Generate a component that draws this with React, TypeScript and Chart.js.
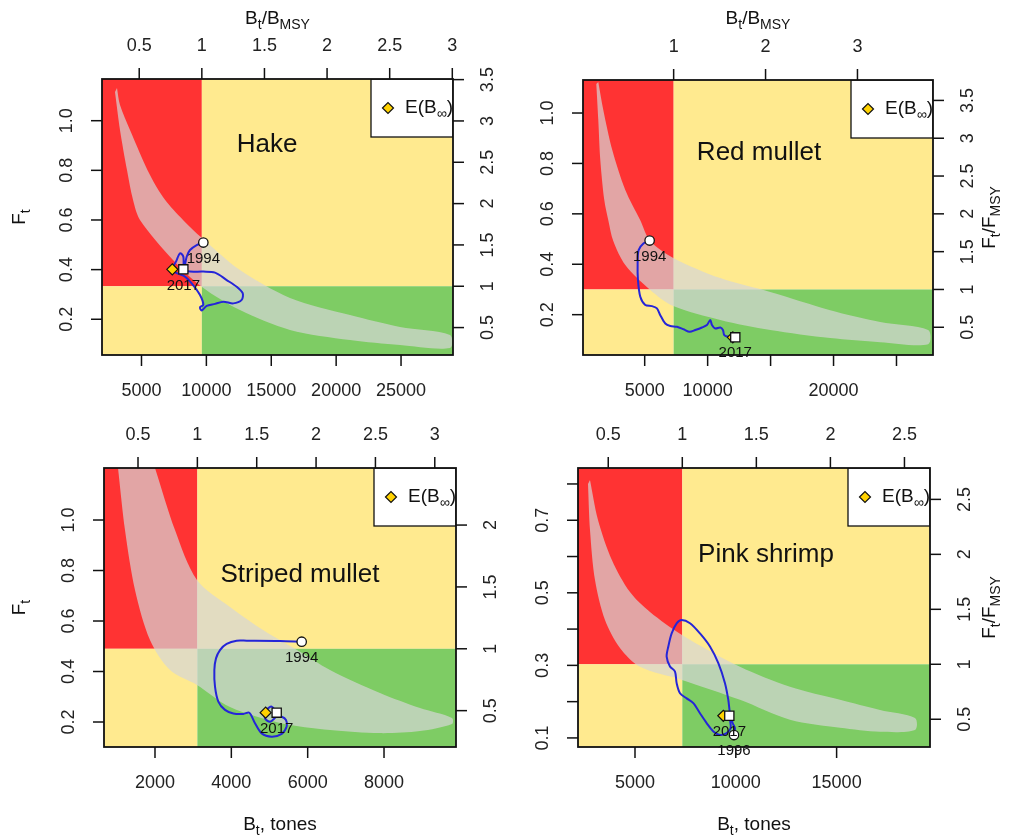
import React, { useEffect, useRef } from "react";
import { Chart, registerables } from "chart.js";
Chart.register(...registerables);

type Pt = [number, number];

// ---------------- Hake ----------------
const hakeTrajectory: Pt[] = [
  [9766, 0.509], [9253, 0.499], [8739, 0.479], [8482, 0.452], [8353, 0.419], [8276, 0.399],
  [8739, 0.392], [9766, 0.392], [10666, 0.388], [11565, 0.358], [12336, 0.331], [12798, 0.305],
  [12721, 0.278], [12078, 0.264], [11308, 0.271], [10666, 0.262], [10024, 0.254], [9638, 0.235],
  [9509, 0.248], [9766, 0.258], [9509, 0.298], [8867, 0.345], [8353, 0.372], [7763, 0.385],
  [7326, 0.399], [7660, 0.432], [7968, 0.466], [8225, 0.452], [8225, 0.401],
];
const hakeBandUpper: Pt[] = [
  [3113, 1.132], [3344, 1.063], [4115, 0.963], [5656, 0.781], [6812, 0.681], [8199, 0.6],
  [9663, 0.527], [12591, 0.398], [16444, 0.286], [21068, 0.217], [24921, 0.169], [28774, 0.137],
];
const hakeBandLower: Pt[] = [
  [2959, 1.116], [3344, 0.963], [3883, 0.801], [4346, 0.681], [4885, 0.6], [7428, 0.439],
  [9663, 0.33], [12591, 0.237], [16444, 0.157], [21068, 0.116], [24921, 0.096], [28774, 0.084],
];
const hakeEquilibrium: Pt = [7374, 0.401];
const hakeYears = ["1994", "2017"];
const hakeBottomTicks = [5000, 10000, 15000, 20000, 25000];
const hakeBottomLabels = ["5000", "10000", "15000", "20000", "25000"];
const hakeTopTicks = [0.5, 1, 1.5, 2, 2.5, 3];
const hakeTopLabels = ["0.5", "1", "1.5", "2", "2.5", "3"];
const hakeLeftTicks = [0.2, 0.4, 0.6, 0.8, 1.0];
const hakeLeftLabels = ["0.2", "0.4", "0.6", "0.8", "1.0"];
const hakeRightTicks = [0.5, 1, 1.5, 2, 2.5, 3, 3.5];
const hakeRightLabels = ["0.5", "1", "1.5", "2", "2.5", "3", "3.5"];

// ---------------- Red mullet ----------------
const mulletTrajectory: Pt[] = [
  [5392, 0.494], [4915, 0.483], [4518, 0.456], [4439, 0.404], [4465, 0.337], [4651, 0.271],
  [5048, 0.238], [5577, 0.234], [5974, 0.225], [6239, 0.198], [6636, 0.165], [7033, 0.155],
  [7562, 0.152], [8092, 0.142], [8568, 0.132], [9018, 0.139], [9548, 0.149], [9945, 0.159],
  [10209, 0.179], [10342, 0.159], [10606, 0.145], [11004, 0.149], [11215, 0.139], [11321, 0.119],
  [11665, 0.112], [12195, 0.11],
];
const mulletBandUpper: Pt[] = [
  [1315, 1.123], [1712, 1.012], [2426, 0.853], [3459, 0.695], [4650, 0.575], [5444, 0.492],
  [7270, 0.425], [11002, 0.345], [14972, 0.29], [19736, 0.218], [23706, 0.171], [27517, 0.139],
];
const mulletBandLower: Pt[] = [
  [1156, 1.115], [1315, 0.972], [1474, 0.814], [1791, 0.655], [2109, 0.575], [2506, 0.492],
  [3459, 0.397], [5444, 0.298], [7270, 0.234], [11002, 0.179], [14972, 0.139], [19736, 0.107],
  [23706, 0.091], [27517, 0.083],
];
const mulletEquilibrium: Pt = [12000, 0.11];
const mulletYears = ["1994", "2017"];
const mulletBottomTicks = [5000, 10000, 15000, 20000, 25000];
const mulletBottomLabels = ["5000", "10000", "", "20000", ""];
const mulletTopTicks = [1, 2, 3];
const mulletTopLabels = ["1", "2", "3"];
const mulletLeftTicks = [0.2, 0.4, 0.6, 0.8, 1.0];
const mulletLeftLabels = ["0.2", "0.4", "0.6", "0.8", "1.0"];
const mulletRightTicks = [0.5, 1, 1.5, 2, 2.5, 3, 3.5];
const mulletRightLabels = ["0.5", "1", "1.5", "2", "2.5", "3", "3.5"];

// ---------------- Striped mullet ----------------
const stripedTrajectory: Pt[] = [
  [5843, 0.518], [5275, 0.521], [4402, 0.522], [4140, 0.522], [3878, 0.509], [3703, 0.485],
  [3598, 0.452], [3555, 0.406], [3572, 0.34], [3659, 0.281], [3834, 0.248], [4052, 0.234],
  [4314, 0.232], [4471, 0.237], [4620, 0.195], [4795, 0.155], [5057, 0.142], [5319, 0.153],
  [5450, 0.182], [5432, 0.208], [5319, 0.221], [5188, 0.221], [5013, 0.201], [4882, 0.215],
  [4926, 0.248], [5057, 0.261], [5188, 0.237],
];
const stripedBandUpper: Pt[] = [
  [2000, 1.206], [2524, 0.96], [3100, 0.762], [3965, 0.655], [4830, 0.564], [5720, 0.485],
  [6585, 0.406], [7895, 0.315], [8943, 0.255], [9781, 0.216],
];
const stripedBandLower: Pt[] = [
  [1031, 1.206], [1214, 0.96], [1476, 0.723], [1869, 0.525], [2393, 0.406], [3100, 0.347],
  [3965, 0.259], [5275, 0.196], [6585, 0.168], [7895, 0.156], [8943, 0.164], [9781, 0.192],
];
const stripedEquilibrium: Pt = [4899, 0.237];
const stripedYears = ["1994", "2017"];
const stripedBottomTicks = [2000, 4000, 6000, 8000];
const stripedBottomLabels = ["2000", "4000", "6000", "8000"];
const stripedTopTicks = [0.5, 1, 1.5, 2, 2.5, 3];
const stripedTopLabels = ["0.5", "1", "1.5", "2", "2.5", "3"];
const stripedLeftTicks = [0.2, 0.4, 0.6, 0.8, 1.0];
const stripedLeftLabels = ["0.2", "0.4", "0.6", "0.8", "1.0"];
const stripedRightTicks = [0.5, 1, 1.5, 2];
const stripedRightLabels = ["0.5", "1", "1.5", "2"];

// ---------------- Pink shrimp ----------------
const shrimpTrajectory: Pt[] = [
  [9910, 0.108], [9959, 0.127], [9843, 0.141], [9711, 0.168], [9628, 0.205], [9463, 0.251],
  [9133, 0.306], [8719, 0.352], [8223, 0.388], [7728, 0.416], [7314, 0.425], [7066, 0.416],
  [6818, 0.388], [6653, 0.352], [6570, 0.324], [6736, 0.297], [6984, 0.283], [7066, 0.251],
  [7232, 0.223], [7562, 0.209], [7893, 0.196], [8223, 0.168], [8554, 0.141], [8885, 0.118],
  [9215, 0.108], [9546, 0.113], [9744, 0.127], [9711, 0.15], [9678, 0.161],
];
const shrimpBandUpper: Pt[] = [
  [2768, 0.811], [3165, 0.701], [3859, 0.59], [4752, 0.502], [5744, 0.447], [7331, 0.384],
  [10208, 0.296], [12688, 0.241], [15168, 0.205], [17152, 0.177], [18888, 0.155],
];
const shrimpBandLower: Pt[] = [
  [2669, 0.8], [2768, 0.673], [3016, 0.535], [3512, 0.425], [4256, 0.348], [5248, 0.296],
  [7331, 0.26], [10208, 0.205], [12688, 0.15], [15168, 0.128], [17152, 0.117], [18888, 0.122],
];
const shrimpEquilibrium: Pt = [9381, 0.161];
const shrimpYears = ["1996", "2017"];
const shrimpBottomTicks = [5000, 10000, 15000];
const shrimpBottomLabels = ["5000", "10000", "15000"];
const shrimpTopTicks = [0.5, 1, 1.5, 2, 2.5];
const shrimpTopLabels = ["0.5", "1", "1.5", "2", "2.5"];
const shrimpLeftTicks = [0.1, 0.2, 0.3, 0.4, 0.5, 0.6, 0.7, 0.8];
const shrimpLeftLabels = ["0.1", "", "0.3", "", "0.5", "", "0.7", ""];
const shrimpRightTicks = [0.5, 1, 1.5, 2, 2.5];
const shrimpRightLabels = ["0.5", "1", "1.5", "2", "2.5"];

// ---------------- styling / layout ----------------
const FONT = '"Liberation Sans", Arial, Helvetica, sans-serif';
const fnt = (s: number) => `${s}px ${FONT}`;
const RED = "#FF3333";
const YELLOW = "#FFEA8F";
const GREEN = "#7ECC64";
const BAND = "rgba(214,214,214,0.7)";
const TRAJ = "#2525D8";
const DIAMOND = "#FFD200";

interface Panel {
  name: string;
  traj: Pt[]; upper: Pt[]; lower: Pt[]; einf: Pt; years: string[];
  bmsy: number; fmsy: number;
  xMin: number; xMax: number; yMin: number; yMax: number;
  bottomTicks: number[]; bottomLabels: string[];
  topTicks: number[]; topLabels: string[];
  leftTicks: number[]; leftLabels: string[];
  rightTicks: number[]; rightLabels: string[];
  frame: { left: number; top: number; w: number; h: number };
  area: { left: number; top: number; right: number; bottom: number };
  titleAt: [number, number];
  topTitle: boolean; bottomTitle: boolean; leftTitle: boolean; rightTitle: boolean;
}

const panels: Panel[] = [
  {
    name: "Hake", traj: hakeTrajectory, upper: hakeBandUpper, lower: hakeBandLower,
    einf: hakeEquilibrium, years: hakeYears, bmsy: 9650, fmsy: 0.333,
    xMin: 1957, xMax: 29004, yMin: 0.056, yMax: 1.168,
    bottomTicks: hakeBottomTicks, bottomLabels: hakeBottomLabels,
    topTicks: hakeTopTicks, topLabels: hakeTopLabels,
    leftTicks: hakeLeftTicks, leftLabels: hakeLeftLabels,
    rightTicks: hakeRightTicks, rightLabels: hakeRightLabels,
    frame: { left: 0, top: 0, w: 515, h: 415 },
    area: { left: 102, top: 79, right: 453, bottom: 355 },
    titleAt: [165, 66], topTitle: true, bottomTitle: false, leftTitle: true, rightTitle: false,
  },
  {
    name: "Red mullet", traj: mulletTrajectory, upper: mulletBandUpper, lower: mulletBandLower,
    einf: mulletEquilibrium, years: mulletYears, bmsy: 7300, fmsy: 0.3,
    xMin: 100, xMax: 27900, yMin: 0.04, yMax: 1.131,
    bottomTicks: mulletBottomTicks, bottomLabels: mulletBottomLabels,
    topTicks: mulletTopTicks, topLabels: mulletTopLabels,
    leftTicks: mulletLeftTicks, leftLabels: mulletLeftLabels,
    rightTicks: mulletRightTicks, rightLabels: mulletRightLabels,
    frame: { left: 515, top: 0, w: 495, h: 415 },
    area: { left: 583, top: 80, right: 933, bottom: 355 },
    titleAt: [176, 73], topTitle: true, bottomTitle: false, leftTitle: false, rightTitle: true,
  },
  {
    name: "Striped mullet", traj: stripedTrajectory, upper: stripedBandUpper, lower: stripedBandLower,
    einf: stripedEquilibrium, years: stripedYears, bmsy: 3110, fmsy: 0.49,
    xMin: 664, xMax: 9886, yMin: 0.101, yMax: 1.206,
    bottomTicks: stripedBottomTicks, bottomLabels: stripedBottomLabels,
    topTicks: stripedTopTicks, topLabels: stripedTopLabels,
    leftTicks: stripedLeftTicks, leftLabels: stripedLeftLabels,
    rightTicks: stripedRightTicks, rightLabels: stripedRightLabels,
    frame: { left: 0, top: 415, w: 515, h: 424 },
    area: { left: 104, top: 468, right: 456, bottom: 747 },
    titleAt: [196, 107], topTitle: false, bottomTitle: true, leftTitle: true, rightTitle: false,
  },
  {
    name: "Pink shrimp", traj: shrimpTrajectory, upper: shrimpBandUpper, lower: shrimpBandLower,
    einf: shrimpEquilibrium, years: shrimpYears, bmsy: 7346, fmsy: 0.303,
    xMin: 2173, xMax: 19632, yMin: 0.075, yMax: 0.844,
    bottomTicks: shrimpBottomTicks, bottomLabels: shrimpBottomLabels,
    topTicks: shrimpTopTicks, topLabels: shrimpTopLabels,
    leftTicks: shrimpLeftTicks, leftLabels: shrimpLeftLabels,
    rightTicks: shrimpRightTicks, rightLabels: shrimpRightLabels,
    frame: { left: 515, top: 415, w: 495, h: 424 },
    area: { left: 578, top: 468, right: 930, bottom: 747 },
    titleAt: [188, 87], topTitle: false, bottomTitle: true, leftTitle: false, rightTitle: true,
  },
];

type Part = { t: string; sub?: boolean };
function drawRich(ctx: any, parts: Part[], x: number, y: number, size: number, rotate = false, align = "center") {
  const sub = Math.round(size * 0.72);
  ctx.save();
  ctx.translate(x, y);
  if (rotate) ctx.rotate(-Math.PI / 2);
  const widths = parts.map((p) => {
    ctx.font = fnt(p.sub ? sub : size);
    return ctx.measureText(p.t).width;
  });
  const total = widths.reduce((a, b) => a + b, 0);
  let cx = align === "center" ? -total / 2 : 0;
  ctx.textAlign = "left";
  ctx.textBaseline = "middle";
  ctx.fillStyle = "#111";
  parts.forEach((p, i) => {
    ctx.font = fnt(p.sub ? sub : size);
    ctx.fillText(p.t, cx, p.sub ? size * 0.32 : 0);
    cx += widths[i];
  });
  ctx.restore();
}

function makePlugin(p: Panel) {
  return {
    id: "kobe",
    beforeDatasetsDraw(chart: any) {
      const { ctx, chartArea: a, scales } = chart;
      const bx = Math.max(a.left, Math.min(a.right, scales.x.getPixelForValue(p.bmsy)));
      const fy = Math.max(a.top, Math.min(a.bottom, scales.y.getPixelForValue(p.fmsy)));
      ctx.save();
      ctx.fillStyle = RED;
      ctx.fillRect(a.left, a.top, bx - a.left, fy - a.top);
      ctx.fillStyle = YELLOW;
      ctx.fillRect(bx, a.top, a.right - bx, fy - a.top);
      ctx.fillRect(a.left, fy, bx - a.left, a.bottom - fy);
      ctx.fillStyle = GREEN;
      ctx.fillRect(bx, fy, a.right - bx, a.bottom - fy);
      ctx.restore();
    },
    afterDatasetsDraw(chart: any) {
      const { ctx, chartArea: a, scales } = chart;
      const xs = scales.x, ys = scales.y;
      const fx = p.frame.left, fyy = p.frame.top;

      // year labels
      const first = p.traj[0], last = p.traj[p.traj.length - 1];
      ctx.save();
      ctx.font = fnt(15);
      ctx.fillStyle = "#111";
      ctx.textAlign = "center";
      ctx.textBaseline = "middle";
      ctx.fillText(p.years[0], xs.getPixelForValue(first[0]), ys.getPixelForValue(first[1]) + 16);
      ctx.fillText(p.years[1], xs.getPixelForValue(last[0]), ys.getPixelForValue(last[1]) + 16);
      ctx.restore();

      // legend box
      ctx.save();
      ctx.beginPath();
      ctx.rect(a.left, a.top, a.right - a.left, a.bottom - a.top);
      ctx.clip();
      const lx = a.right - 82, ly = a.top, lw = 82, lh = 58;
      ctx.fillStyle = "#fff";
      ctx.fillRect(lx, ly, lw, lh);
      ctx.strokeStyle = "#111";
      ctx.lineWidth = 1.3;
      ctx.strokeRect(lx, ly, lw, lh);
      const dx = lx + 17, dy = ly + 29, dr = 5.5;
      ctx.beginPath();
      ctx.moveTo(dx - dr, dy); ctx.lineTo(dx, dy - dr); ctx.lineTo(dx + dr, dy); ctx.lineTo(dx, dy + dr);
      ctx.closePath();
      ctx.fillStyle = DIAMOND;
      ctx.fill();
      ctx.lineWidth = 1.2;
      ctx.stroke();
      drawRich(ctx, [{ t: "E(B" }, { t: "\u221E", sub: true }, { t: ")" }], lx + 34, dy, 19, false, "left");
      ctx.restore();

      // panel title
      ctx.save();
      ctx.font = fnt(26);
      ctx.fillStyle = "#111";
      ctx.textAlign = "center";
      ctx.textBaseline = "middle";
      ctx.fillText(p.name, a.left + p.titleAt[0], a.top + p.titleAt[1]);
      ctx.restore();

      // box
      ctx.save();
      ctx.strokeStyle = "#111";
      ctx.lineWidth = 1.8;
      ctx.strokeRect(a.left, a.top, a.right - a.left, a.bottom - a.top);

      // ticks
      ctx.lineWidth = 1.5;
      ctx.fillStyle = "#222";
      ctx.font = fnt(18);
      ctx.textAlign = "center";
      ctx.textBaseline = "middle";
      const TL = 11;
      p.bottomTicks.forEach((v, i) => {
        const px = xs.getPixelForValue(v);
        ctx.beginPath(); ctx.moveTo(px, a.bottom); ctx.lineTo(px, a.bottom + TL); ctx.stroke();
        if (p.bottomLabels[i]) ctx.fillText(p.bottomLabels[i], px, a.bottom + 36);
      });
      p.topTicks.forEach((r, i) => {
        const px = xs.getPixelForValue(r * p.bmsy);
        ctx.beginPath(); ctx.moveTo(px, a.top); ctx.lineTo(px, a.top - TL); ctx.stroke();
        if (p.topLabels[i]) ctx.fillText(p.topLabels[i], px, a.top - 33);
      });
      const rot = (txt: string, x: number, y: number) => {
        ctx.save(); ctx.translate(x, y); ctx.rotate(-Math.PI / 2); ctx.fillText(txt, 0, 0); ctx.restore();
      };
      p.leftTicks.forEach((v, i) => {
        const py = ys.getPixelForValue(v);
        ctx.beginPath(); ctx.moveTo(a.left, py); ctx.lineTo(a.left - TL, py); ctx.stroke();
        if (p.leftLabels[i]) rot(p.leftLabels[i], a.left - 35, py);
      });
      p.rightTicks.forEach((r, i) => {
        const py = ys.getPixelForValue(r * p.fmsy);
        ctx.beginPath(); ctx.moveTo(a.right, py); ctx.lineTo(a.right + TL, py); ctx.stroke();
        if (p.rightLabels[i]) rot(p.rightLabels[i], a.right + 35, py);
      });
      ctx.restore();

      // axis titles
      const cy = (a.top + a.bottom) / 2, cx = (a.left + a.right) / 2;
      if (p.topTitle) drawRich(ctx, [{ t: "B" }, { t: "t", sub: true }, { t: "/B" }, { t: "MSY", sub: true }], cx, 19 - fyy, 19);
      if (p.bottomTitle) drawRich(ctx, [{ t: "B" }, { t: "t", sub: true }, { t: ", tones" }], cx, 825 - fyy, 19);
      if (p.leftTitle) drawRich(ctx, [{ t: "F" }, { t: "t", sub: true }], 20 - fx, cy, 19, true);
      if (p.rightTitle) drawRich(ctx, [{ t: "F" }, { t: "t", sub: true }, { t: "/F" }, { t: "MSY", sub: true }], 990 - fx, cy, 19, true);
    },
  };
}

function KobePanel({ panel }: { panel: Panel }) {
  const ref = useRef<HTMLCanvasElement>(null);
  useEffect(() => {
    const p = panel;
    const canvas = ref.current;
    if (!canvas) return;
    const padding = {
      left: p.area.left - p.frame.left,
      top: p.area.top - p.frame.top,
      right: p.frame.left + p.frame.w - p.area.right,
      bottom: p.frame.top + p.frame.h - p.area.bottom,
    };
    const toXY = (q: Pt) => ({ x: q[0], y: q[1] });
    const polygon = [...p.upper, ...[...p.lower].reverse()].map(toXY);
    const traj = p.traj.map(toXY);
    const chart = new Chart(canvas, {
      type: "line",
      data: {
        datasets: [
          {
            data: [traj[traj.length - 1]], showLine: false, pointStyle: "rect", pointRadius: 6.5,
            pointBackgroundColor: "#fff", pointBorderColor: "#111", pointBorderWidth: 1.3,
          },
          {
            data: [traj[0]], showLine: false, pointStyle: "circle", pointRadius: 4.7,
            pointBackgroundColor: "#fff", pointBorderColor: "#111", pointBorderWidth: 1.3,
          },
          {
            data: [toXY(p.einf)], showLine: false, pointStyle: "rectRot", pointRadius: 5.5,
            pointBackgroundColor: DIAMOND, pointBorderColor: "#111", pointBorderWidth: 1.2,
          },
          {
            data: traj, borderColor: TRAJ, borderWidth: 2, pointRadius: 0, tension: 0.3, fill: false,
          },
          {
            data: polygon, borderColor: "rgba(0,0,0,0)", borderWidth: 0, backgroundColor: BAND,
            pointRadius: 0, fill: "shape", tension: 0.3, capBezierPoints: false,
          },
        ] as any,
      },
      options: {
        animation: false,
        responsive: false,
        devicePixelRatio: 1,
        events: [],
        layout: { padding },
        scales: {
          x: { type: "linear", min: p.xMin, max: p.xMax, display: false },
          y: { type: "linear", min: p.yMin, max: p.yMax, display: false },
        },
        plugins: { legend: { display: false }, tooltip: { enabled: false } },
      } as any,
      plugins: [makePlugin(p) as any],
    });
    return () => chart.destroy();
  }, [panel]);
  return (
    <canvas
      ref={ref}
      width={panel.frame.w}
      height={panel.frame.h}
      style={{
        position: "absolute", left: panel.frame.left, top: panel.frame.top,
        width: panel.frame.w, height: panel.frame.h, display: "block",
      }}
    />
  );
}

export default function App() {
  return (
    <div style={{ position: "absolute", left: 0, top: 0, width: 1010, height: 839, background: "#fff", overflow: "hidden" }}>
      {panels.map((p) => (
        <KobePanel key={p.name} panel={p} />
      ))}
    </div>
  );
}
